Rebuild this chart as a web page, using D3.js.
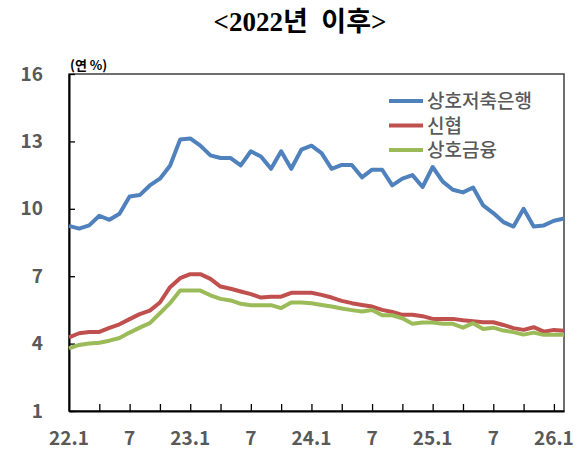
<!DOCTYPE html>
<html>
<head>
<meta charset="utf-8">
<script src="https://cdn.jsdelivr.net/npm/d3@7"></script>
<style>
  body { margin: 0; background: #fff; }
  svg text { font-family: "Noto Sans CJK KR", "Malgun Gothic", sans-serif; }
</style>
</head>
<body>
<div id="chart"></div>
<script>
// Chart data (monthly, 22.1 ~ 26.2)
var months = [
  "22.1","22.2","22.3","22.4","22.5","22.6","22.7","22.8","22.9","22.10","22.11","22.12",
  "23.1","23.2","23.3","23.4","23.5","23.6","23.7","23.8","23.9","23.10","23.11","23.12",
  "24.1","24.2","24.3","24.4","24.5","24.6","24.7","24.8","24.9","24.10","24.11","24.12",
  "25.1","25.2","25.3","25.4","25.5","25.6","25.7","25.8","25.9","25.10","25.11","25.12",
  "26.1","26.2"
];

var savingsBank = [
  9.24, 9.12, 9.26, 9.69, 9.51, 9.78, 10.55, 10.61, 11.04, 11.34, 11.92, 13.08,
  13.13, 12.81, 12.38, 12.26, 12.26, 11.93, 12.56, 12.33, 11.78, 12.56, 11.78, 12.63,
  12.81, 12.48, 11.78, 11.95, 11.95, 11.40, 11.74, 11.74, 11.04, 11.34, 11.50, 10.97,
  11.86, 11.21, 10.85, 10.73, 10.95, 10.15, 9.81, 9.41, 9.21, 10.00, 9.21, 9.26,
  9.47, 9.57
];

var creditUnion = [
  4.28, 4.46, 4.52, 4.52, 4.70, 4.86, 5.09, 5.31, 5.47, 5.83, 6.51, 6.91,
  7.09, 7.09, 6.88, 6.54, 6.44, 6.32, 6.20, 6.05, 6.09, 6.09, 6.26, 6.26,
  6.26, 6.17, 6.05, 5.90, 5.80, 5.72, 5.65, 5.50, 5.41, 5.28, 5.28, 5.22,
  5.10, 5.10, 5.10, 5.04, 5.00, 4.95, 4.95, 4.83, 4.69, 4.61, 4.73, 4.53,
  4.61, 4.57
];

var mutualFinance = [
  3.79, 3.94, 4.00, 4.04, 4.13, 4.25, 4.49, 4.71, 4.91, 5.35, 5.80, 6.36,
  6.36, 6.36, 6.15, 5.99, 5.92, 5.77, 5.71, 5.71, 5.71, 5.58, 5.83, 5.83,
  5.80, 5.72, 5.65, 5.56, 5.49, 5.43, 5.50, 5.26, 5.26, 5.13, 4.88, 4.94,
  4.94, 4.88, 4.88, 4.71, 4.91, 4.65, 4.71, 4.58, 4.51, 4.40, 4.49, 4.39,
  4.39, 4.39
];

var seriesNames = ["상호저축은행", "신협", "상호금융"];
var seriesColors = ["#4F81BD", "#C0504D", "#9BBB59"];
var seriesValues = [savingsBank, creditUnion, mutualFinance];

var yTicks = [1, 4, 7, 10, 13, 16];
var xLabels = {"22.1": "22.1", "22.7": "7", "23.1": "23.1", "23.7": "7", "24.1": "24.1",
               "24.7": "7", "25.1": "25.1", "25.7": "7", "26.1": "26.1"};

// Chart params
var svgWidth = 582;
var svgHeight = 454;
var margin = { top: 74, right: 18, bottom: 43, left: 69 };
var width = svgWidth - margin.left - margin.right;
var height = svgHeight - margin.top - margin.bottom;

var svg = d3.select("#chart")
  .append("svg")
  .attr("width", svgWidth)
  .attr("height", svgHeight);

// Title
svg.append("text")
  .attr("x", 300)
  .attr("y", 31)
  .attr("text-anchor", "middle")
  .style("font-family", "'Liberation Serif', 'Noto Sans CJK KR', serif")
  .style("font-size", "27px")
  .style("font-weight", "bold")
  .style("white-space", "pre")
  .style("fill", "#000")
  .text("<2022년  이후>");

var chartGroup = svg.append("g")
  .attr("transform", `translate(${margin.left}, ${margin.top})`);

// Scales
var xScale = d3.scalePoint()
  .domain(months)
  .range([0, width]);

var yScale = d3.scaleLinear()
  .domain([1, 16])
  .range([height, 0]);

// Frame (top and right)
chartGroup.append("rect")
  .attr("x", 0)
  .attr("y", 0)
  .attr("width", width)
  .attr("height", height)
  .attr("fill", "none")
  .attr("stroke", "#404040")
  .attr("stroke-width", 1.5);

// Axes
var bottomAxis = d3.axisBottom(xScale)
  .tickValues(months.filter((m, i) => i % 3 === 0 && i > 0 && i < 49))
  .tickSizeInner(-7)
  .tickSizeOuter(0)
  .tickFormat("");

var xAxisG = chartGroup.append("g")
  .attr("transform", `translate(0, ${height})`)
  .call(bottomAxis);
xAxisG.select(".domain").attr("stroke", "#000").attr("stroke-width", 2);
xAxisG.selectAll(".tick line").attr("stroke", "#000").attr("stroke-width", 1.3);

// x labels
chartGroup.selectAll(".xlab")
  .data(months.filter(m => xLabels[m]))
  .enter()
  .append("text")
  .attr("class", "xlab")
  .attr("x", d => xScale(d))
  .attr("y", height + 34)
  .attr("text-anchor", "middle")
  .style("font-size", "19px")
  .style("font-weight", "bold")
  .style("fill", "#595959")
  .text(d => xLabels[d]);

var leftAxis = d3.axisLeft(yScale)
  .tickValues(yTicks)
  .tickSizeInner(-6)
  .tickSizeOuter(0)
  .tickPadding(26);

var yAxisG = chartGroup.append("g").call(leftAxis);
yAxisG.select(".domain").attr("stroke", "#000").attr("stroke-width", 2);
yAxisG.selectAll(".tick line").attr("stroke", "#000").attr("stroke-width", 1.3);
yAxisG.selectAll(".tick text")
  .style("font-family", "'Noto Sans CJK KR', sans-serif")
  .style("font-size", "19px")
  .style("font-weight", "bold")
  .style("fill", "#595959");

// Unit label
svg.append("text")
  .attr("x", 70)
  .attr("y", 70)
  .style("font-size", "13px")
  .style("font-weight", "bold")
  .style("fill", "#000")
  .text("(연 %)");

// Lines
var line = d3.line()
  .x((d, i) => xScale(months[i]))
  .y(d => yScale(d));

seriesValues.forEach(function(vals, k) {
  chartGroup.append("path")
    .datum(vals)
    .attr("fill", "none")
    .attr("stroke", seriesColors[k])
    .attr("stroke-width", 4)
    .attr("stroke-linejoin", "round")
    .attr("d", line);
});

// Legend
var legend = svg.append("g");
seriesNames.forEach(function(name, k) {
  var y = 101 + k * 24.5;
  legend.append("line")
    .attr("x1", 389).attr("x2", 423)
    .attr("y1", y).attr("y2", y)
    .attr("stroke", seriesColors[k])
    .attr("stroke-width", 4);
  legend.append("text")
    .attr("x", 427)
    .attr("y", y + 7)
    .style("font-size", "19px")
    .style("font-weight", "500")
    .style("fill", "#595959")
    .text(name);
});
</script>
</body>
</html>
